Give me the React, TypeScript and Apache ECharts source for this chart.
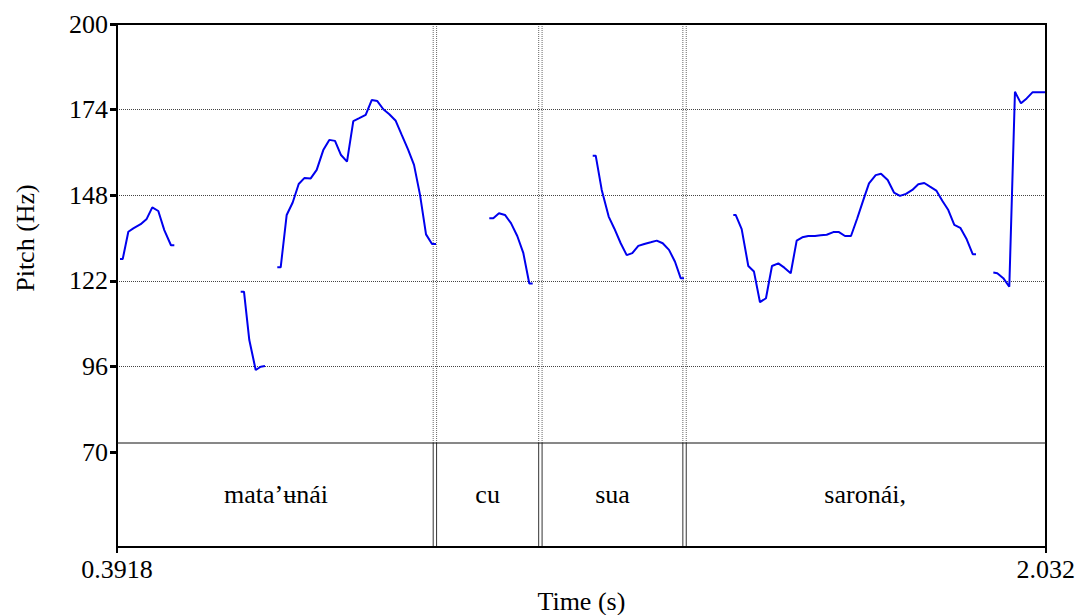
import React, { useEffect, useRef } from "react";
import * as echarts from "echarts";

// ---- data ----
const timeMin = 0.3918;
const timeMax = 2.032;
const pitchMin = 70;
const pitchMax = 200;
const pitchTicks = [70, 96, 122, 148, 174, 200];
const pitchGridLines = [96, 122, 148, 174];
const timeTicks = [0.3918, 2.032];

// pitch contour segments: [time (s), pitch (Hz)]
const seg1: [number, number][] = [
  [0.3971, 128.6], [0.4019, 128.6], [0.4118, 136.9], [0.4206, 137.9], [0.4336, 139.2],
  [0.4442, 140.8], [0.4541, 144.3], [0.4647, 143.2], [0.4753, 137.4], [0.4871, 132.8], [0.493, 132.8],
];
const seg2: [number, number][] = [
  [0.6102, 118.7], [0.616, 118.7], [0.6254, 104.0], [0.6367, 94.9], [0.6455, 95.9], [0.6531, 96.1],
];
const seg3: [number, number][] = [
  [0.6748, 126.1], [0.6808, 126.1], [0.6914, 142.0], [0.702, 145.8], [0.7126, 151.4],
  [0.7225, 153.2], [0.7338, 153.1], [0.7444, 155.7], [0.756, 161.7], [0.7666, 164.8],
  [0.7767, 164.5], [0.7873, 160.2], [0.7979, 158.2], [0.809, 170.5], [0.8196, 171.4],
  [0.8309, 172.4], [0.8415, 176.9], [0.8514, 176.6], [0.862, 174.1], [0.8726, 172.6],
  [0.8839, 170.6], [0.8945, 166.3], [0.9056, 161.9], [0.9162, 157.2], [0.9268, 148.1],
  [0.9374, 136.1], [0.948, 133.2], [0.955, 133.2],
];
const seg4: [number, number][] = [
  [1.0491, 141.0], [1.0562, 141.0], [1.0662, 142.5], [1.0768, 142.0], [1.0874, 139.5],
  [1.0985, 135.6], [1.1091, 130.5], [1.1197, 121.2], [1.1257, 121.2],
];
const seg5: [number, number][] = [
  [1.2317, 160.0], [1.237, 160.0], [1.2476, 149.6], [1.2599, 141.5], [1.2698, 137.9],
  [1.2811, 133.4], [1.2917, 129.8], [1.3016, 130.4], [1.3122, 132.6], [1.3228, 133.2],
  [1.3341, 133.7], [1.3447, 134.2], [1.3553, 133.4], [1.3664, 131.4], [1.377, 127.8],
  [1.387, 122.8], [1.3929, 122.8],
];
const seg6: [number, number][] = [
  [1.4799, 142.0], [1.4841, 142.0], [1.4947, 137.7], [1.5064, 126.5], [1.5164, 124.8],
  [1.527, 115.5], [1.5376, 116.7], [1.5482, 126.5], [1.5594, 127.3], [1.57, 126.0],
  [1.5813, 124.3], [1.5918, 134.2], [1.6017, 135.2], [1.6123, 135.6], [1.6241, 135.6],
  [1.6342, 135.8], [1.6448, 136.0], [1.6565, 136.8], [1.6665, 136.8], [1.6771, 135.6],
  [1.6877, 135.6], [1.6988, 141.0], [1.7094, 146.5], [1.7195, 151.6], [1.7313, 154.1],
  [1.7407, 154.5], [1.7525, 152.6], [1.7636, 148.8], [1.7742, 147.8], [1.7848, 148.4],
  [1.796, 149.6], [1.8065, 151.3], [1.8171, 151.7], [1.8272, 150.6], [1.8383, 149.4],
  [1.8489, 146.3], [1.8595, 143.5], [1.8701, 139.0], [1.8807, 138.1], [1.892, 134.6],
  [1.9026, 130.1], [1.9084, 130.1],
];
const seg7: [number, number][] = [
  [1.939, 124.5], [1.946, 124.3], [1.9566, 122.8], [1.9672, 120.2], [1.9772, 179.4],
  [1.9878, 175.9], [1.9979, 177.4], [2.0085, 179.3], [2.0184, 179.3], [2.032, 179.3],
];
const segments = [seg1, seg2, seg3, seg4, seg5, seg6, seg7];

// text tier
const tierLabels = ["mata\u2019\u0289n\u00e1i", "cu", "sua", "saron\u00e1i,"];
const tierStarts = [0.3918, 0.9532, 1.1395, 1.3941];
const tierEnds = [0.9532, 1.1395, 1.3941, 2.032];

// ---- layout ----
const FONT = "Liberation Serif";
const PLOT_LEFT = 117;
const PLOT_WIDTH = 929;
const PLOT_TOP = 24;
const PITCH_HEIGHT = 428;
const TIER_TOP = 443;
const TIER_HEIGHT = 104;

export default function App() {
  const ref = useRef<HTMLDivElement>(null);

  useEffect(() => {
    if (!ref.current) return;
    const chart = echarts.init(ref.current, null, { renderer: "svg" });

    const pitchSeries = segments.map((seg, i) => ({
      type: "line",
      xAxisIndex: 0,
      yAxisIndex: 0,
      data: seg,
      showSymbol: false,
      symbol: "none",
      silent: true,
      lineStyle: { color: "#0000ee", width: 2 },
      z: 5,
      markLine:
        i === 0
          ? {
              silent: true,
              symbol: ["none", "none"],
              label: { show: false },
              lineStyle: { color: "#444", type: "dotted", width: 1 },
              data: pitchGridLines.map((v) => ({ yAxis: v })),
              z: 1,
            }
          : undefined,
    }));

    const tierSeries = {
      type: "custom",
      xAxisIndex: 1,
      yAxisIndex: 1,
      silent: true,
      clip: false,
      data: tierStarts.map((s, i) => [s, tierEnds[i]]),
      encode: { x: [0, 1] },
      renderItem: (params: any, api: any) => {
        const i = params.dataIndex;
        const s = api.value(0);
        const e = api.value(1);
        const pS = api.coord([s, 0.5]);
        const pE = api.coord([e, 0.5]);
        const top = api.coord([e, 1])[1];
        const bottom = api.coord([e, 0])[1];
        const children: any[] = [
          {
            type: "text",
            style: {
              text: tierLabels[i],
              x: (pS[0] + pE[0]) / 2,
              y: pS[1],
              align: "center",
              verticalAlign: "middle",
              fontSize: 26,
              fontFamily: FONT,
              fill: "#000",
            },
          },
        ];
        if (e < timeMax) {
          const x = pE[0];
          [x - 1.7, x + 1.7].forEach((xx) => {
            children.push({
              type: "line",
              shape: { x1: xx, y1: PLOT_TOP, x2: xx, y2: top },
              style: { stroke: "#666", lineWidth: 1, lineDash: [1, 1] },
            });
            children.push({
              type: "line",
              shape: { x1: xx, y1: top, x2: xx, y2: bottom },
              style: { stroke: "#333", lineWidth: 1 },
            });
          });
        }
        return { type: "group", children };
      },
    };

    chart.setOption({
      animation: false,
      grid: [
        { left: PLOT_LEFT, top: PLOT_TOP, width: PLOT_WIDTH, height: PITCH_HEIGHT },
        { left: PLOT_LEFT, top: TIER_TOP, width: PLOT_WIDTH, height: TIER_HEIGHT },
      ],
      xAxis: [
        { type: "value", gridIndex: 0, min: timeMin, max: timeMax, show: false },
        {
          type: "value",
          gridIndex: 1,
          min: timeMin,
          max: timeMax,
          axisLine: { show: false },
          splitLine: { show: false },
          axisTick: {
            show: true,
            customValues: timeTicks,
            length: 7,
            lineStyle: { color: "#000", width: 2 },
          },
          axisLabel: {
            show: true,
            customValues: timeTicks,
            formatter: (v: number) => String(v),
            fontSize: 26,
            fontFamily: FONT,
            color: "#000",
            margin: 10,
          },
          name: "Time (s)",
          nameLocation: "middle",
          nameGap: 42,
          nameTextStyle: { fontSize: 26, fontFamily: FONT, color: "#000" },
        },
      ],
      yAxis: [
        {
          type: "value",
          gridIndex: 0,
          min: pitchMin,
          max: pitchMax,
          axisLine: { show: false },
          splitLine: { show: false },
          axisTick: {
            show: true,
            customValues: pitchTicks,
            length: 7,
            lineStyle: { color: "#000", width: 3 },
          },
          axisLabel: {
            show: true,
            customValues: pitchTicks,
            formatter: (v: number) => String(v),
            fontSize: 26,
            fontFamily: FONT,
            color: "#000",
            margin: 9,
          },
          name: "Pitch (Hz)",
          nameLocation: "middle",
          nameGap: 79,
          nameTextStyle: { fontSize: 26, fontFamily: FONT, color: "#000" },
        },
        { type: "value", gridIndex: 1, min: 0, max: 1, show: false },
      ],
      graphic: [
        {
          type: "rect",
          silent: true,
          z: 20,
          shape: { x: PLOT_LEFT, y: PLOT_TOP, width: PLOT_WIDTH, height: TIER_TOP + TIER_HEIGHT - PLOT_TOP },
          style: { fill: "none", stroke: "#000", lineWidth: 2 },
        },
        {
          type: "line",
          silent: true,
          z: 20,
          shape: { x1: PLOT_LEFT, y1: TIER_TOP, x2: PLOT_LEFT + PLOT_WIDTH, y2: TIER_TOP },
          style: { stroke: "#111", lineWidth: 1 },
        },
      ],
      series: [...pitchSeries, tierSeries],
    });

    return () => chart.dispose();
  }, []);

  return (
    <div
      ref={ref}
      style={{ position: "fixed", left: 0, top: 0, width: 1078, height: 615, background: "#fff" }}
    />
  );
}
